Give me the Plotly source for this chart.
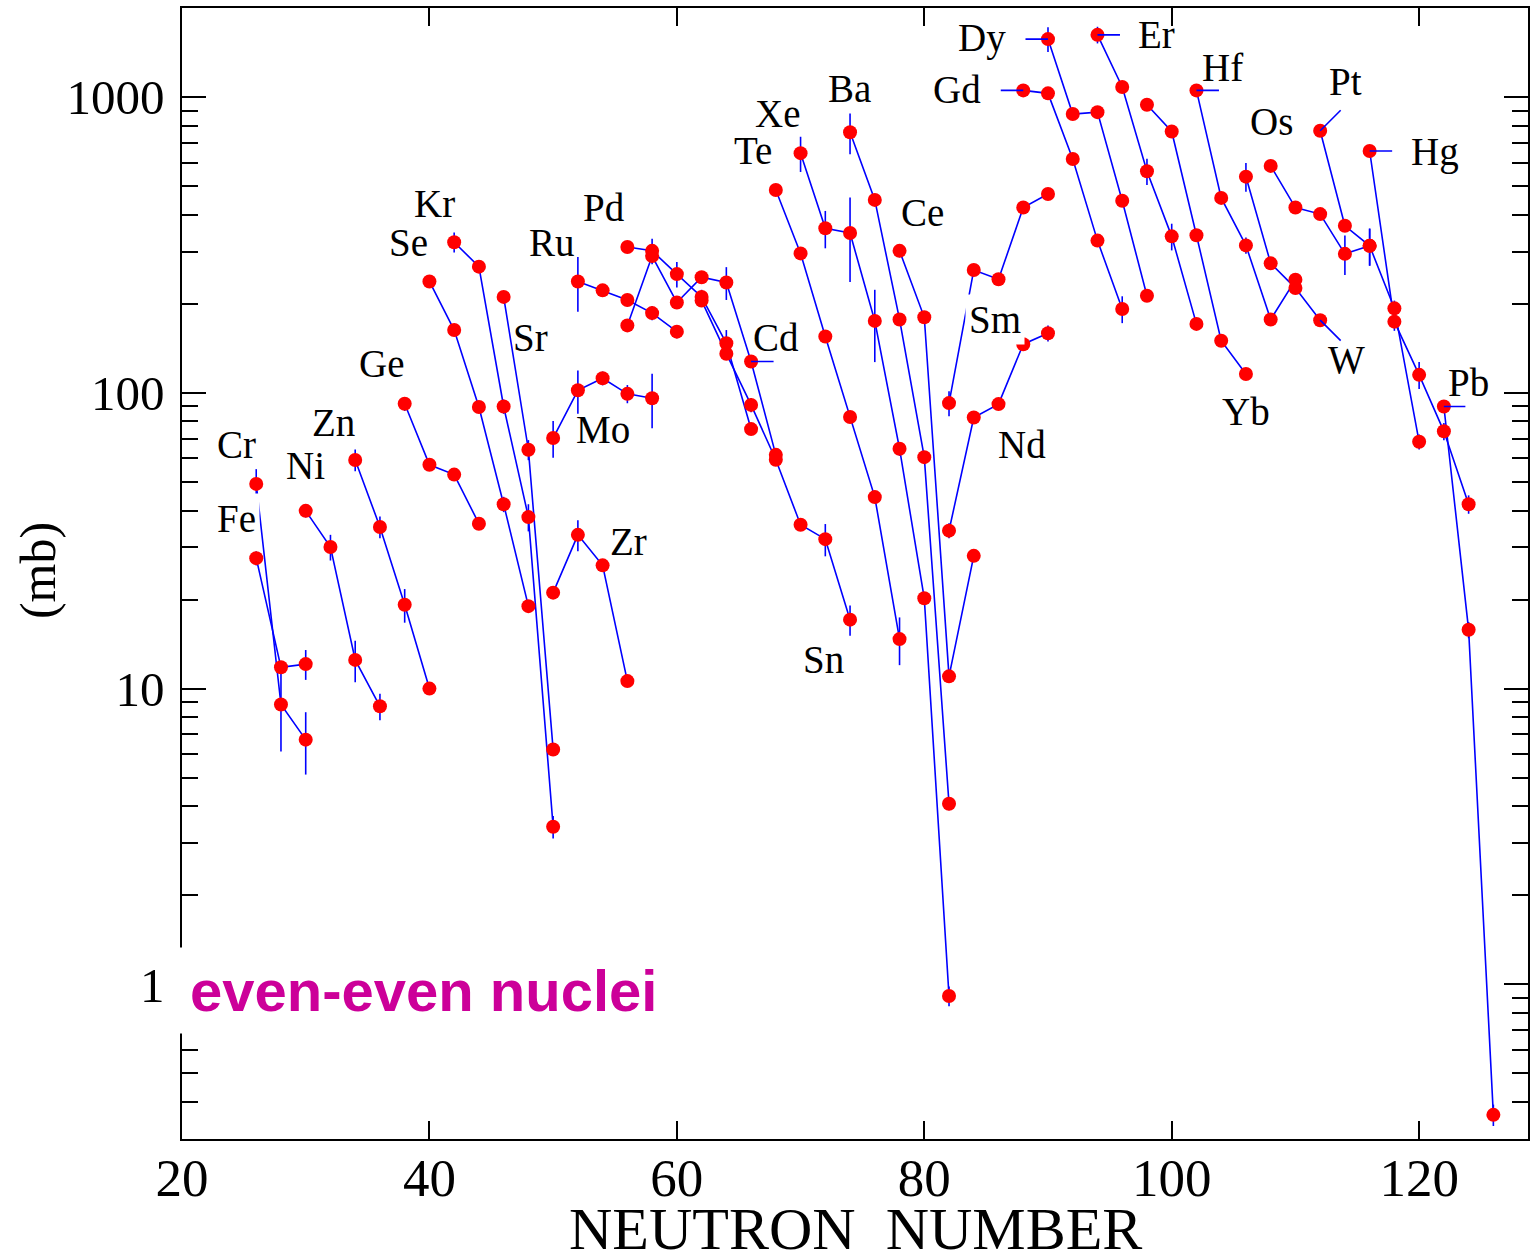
import math
import plotly.graph_objects as go

# Capture cross sections (mb) of even-even isotopes, grouped by element,
# plotted against neutron number N.
cr_n = [26, 28, 30]
cr_mb = [49.2, 8.83, 6.72]
cr_err = [6.0, 2.7, 1.6]

fe_n = [26, 28, 30]
fe_mb = [27.6, 11.8, 12.1]
fe_err = [1.5, 0.6, 1.4]

ni_n = [30, 32, 34, 36]
ni_mb = [39.9, 30.1, 12.5, 8.71]
ni_err = [2.0, 3.0, 2.0, 0.9]

zn_n = [34, 36, 38, 40]
zn_mb = [59.3, 35.2, 19.2, 10.0]
zn_err = [5.0, 3.0, 2.5, 0.0]

ge_n = [38, 40, 42, 44]
ge_mb = [91.8, 57.1, 52.9, 36.1]
ge_err = [5.0, 0.0, 0.0, 0.0]

se_n = [40, 42, 44, 46, 48]
se_mb = [238, 163, 89.5, 42.0, 19.0]
se_err = [0, 0, 0, 2.5, 0]

kr_n = [42, 44, 46, 48, 50]
kr_mb = [323, 267, 89.9, 38.0, 3.41]
kr_err = [25, 0, 5, 4, 0.3]

sr_n = [46, 48, 50]
sr_mb = [211, 64.2, 6.22]
sr_err = [0, 5, 0.2]

zr_n = [50, 52, 54, 56]
zr_mb = [21.1, 33.1, 26.1, 10.6]
zr_err = [1.0, 4.0, 1.0, 0.0]

mo_n = [50, 52, 54, 56, 58]
mo_mb = [70.3, 102, 112, 99.2, 95.9]
mo_err = [10, 17, 6, 7, 20]

ru_n = [52, 54, 56, 58, 60]
ru_mb = [238, 222, 206, 186, 161]
ru_err = [50, 5, 10, 10, 8]

pd_n = [56, 58, 60, 62, 64, 66]
pd_mb = [311, 302, 252, 211, 147, 75.4]
pd_err = [0, 30, 25, 12, 16, 0]

cd_n = [56, 58, 60, 62, 64, 66, 68]
cd_mb = [169, 290, 202, 246, 236, 127.6, 61.7]
cd_err = [0, 0, 0, 0, 30, 0, 0]

sn_n = [62, 64, 66, 68, 70, 72, 74]
sn_mb = [205, 135.6, 91.0, 59.4, 35.8, 32.0, 17.1]
sn_err = [10, 5, 5, 0, 0, 4, 2]

te_n = [68, 70, 72, 74, 76, 78]
te_mb = [485, 296, 155, 82.8, 44.4, 14.7]
te_err = [0, 0, 0, 0, 2, 2.7]

xe_n = [70, 72, 74, 76, 78, 80, 82]
xe_mb = [646, 360, 347, 175, 64.7, 20.2, 0.913]
xe_err = [88, 52, 110, 48, 3.5, 1.0, 0.07]

ba_n = [74, 76, 78, 80, 82]
ba_mb = [760, 449, 177, 60.6, 4.08]
ba_err = [120, 0, 0, 3, 0.2]

ce_n = [78, 80, 82, 84]
ce_mb = [302, 180, 11.0, 28.1]
ce_err = [15, 0, 0.5, 0]

nd_n = [82, 84, 86, 88, 90]
nd_mb = [34.2, 82.5, 91.6, 146, 159]
nd_err = [2, 0, 0, 0, 10]

sm_n = [82, 84, 86, 88, 90]
sm_mb = [92.3, 260, 242, 423, 470]
sm_err = [9, 0, 0, 0, 0]

gd_n = [88, 90, 92, 94, 96]
gd_mb = [1053, 1029, 617, 327, 192]
gd_err = [0, 0, 0, 0, 20]

dy_n = [90, 92, 94, 96, 98]
dy_mb = [1570, 876, 889, 446, 213]
dy_err = [150, 0, 0, 0, 0]

er_n = [94, 96, 98, 100, 102]
er_mb = [1623, 1081, 561, 338, 171]
er_err = [105, 0, 57, 35, 0]

yb_n = [98, 100, 102, 104, 106]
yb_mb = [942, 765, 341, 150, 115.7]
yb_err = [0, 0, 0, 0, 0]

hf_n = [102, 104, 106, 108, 110]
hf_mb = [1053, 456, 315, 177, 241]
hf_err = [0, 0, 20, 0, 0]

w_n = [106, 108, 110, 112]
w_mb = [538, 274, 226, 176]
w_err = [60, 0, 0, 0]

os_n = [108, 110, 112, 114, 116]
os_mb = [585, 423, 402, 295, 314]
os_err = [0, 0, 0, 45, 45]

pt_n = [112, 114, 116, 118, 120]
pt_mb = [769, 367, 314, 193, 68.3]
pt_err = [0, 0, 45, 12, 4]

hg_n = [116, 118, 120, 122, 124]
hg_mb = [657, 174, 115, 74.1, 42.0]
hg_err = [0, 12, 12, 5, 3]

pb_n = [122, 124, 126]
pb_mb = [89.9, 15.8, 0.362]
pb_err = [0, 1.0, 0.03]

series = [
    ("Cr", cr_n, cr_mb, cr_err), ("Fe", fe_n, fe_mb, fe_err),
    ("Ni", ni_n, ni_mb, ni_err), ("Zn", zn_n, zn_mb, zn_err),
    ("Ge", ge_n, ge_mb, ge_err), ("Se", se_n, se_mb, se_err),
    ("Kr", kr_n, kr_mb, kr_err), ("Sr", sr_n, sr_mb, sr_err),
    ("Zr", zr_n, zr_mb, zr_err), ("Mo", mo_n, mo_mb, mo_err),
    ("Ru", ru_n, ru_mb, ru_err), ("Pd", pd_n, pd_mb, pd_err),
    ("Cd", cd_n, cd_mb, cd_err), ("Sn", sn_n, sn_mb, sn_err),
    ("Te", te_n, te_mb, te_err), ("Xe", xe_n, xe_mb, xe_err),
    ("Ba", ba_n, ba_mb, ba_err), ("Ce", ce_n, ce_mb, ce_err),
    ("Nd", nd_n, nd_mb, nd_err), ("Sm", sm_n, sm_mb, sm_err),
    ("Gd", gd_n, gd_mb, gd_err), ("Dy", dy_n, dy_mb, dy_err),
    ("Er", er_n, er_mb, er_err), ("Yb", yb_n, yb_mb, yb_err),
    ("Hf", hf_n, hf_mb, hf_err), ("W", w_n, w_mb, w_err),
    ("Os", os_n, os_mb, os_err), ("Pt", pt_n, pt_mb, pt_err),
    ("Hg", hg_n, hg_mb, hg_err), ("Pb", pb_n, pb_mb, pb_err),
]

# Element label placement (neutron number, log10 of mb)
label_pos = {
    "Cr": (24.37, 1.824), "Fe": (24.37, 1.574), "Ni": (30.02, 1.753),
    "Zn": (32.21, 1.899), "Ge": (36.09, 2.098), "Se": (38.27, 2.507),
    "Kr": (40.37, 2.639), "Sr": (48.13, 2.186), "Ru": (49.91, 2.507),
    "Pd": (54.11, 2.625), "Mo": (54.03, 1.875), "Zr": (56.06, 1.497),
    "Cd": (68.02, 2.186), "Te": (66.16, 2.818), "Xe": (68.10, 2.943),
    "Ba": (73.92, 3.030), "Ce": (79.82, 2.611), "Sn": (71.82, 1.098),
    "Sm": (85.72, 2.247), "Nd": (87.91, 1.824), "Dy": (84.67, 3.199),
    "Gd": (82.65, 3.024), "Er": (98.74, 3.213), "Hf": (104.07, 3.101),
    "Os": (108.04, 2.916), "Pt": (114.02, 3.051), "Hg": (121.29, 2.814),
    "W": (114.10, 2.111), "Yb": (106.01, 1.936), "Pb": (123.96, 2.034),
}
# labels drawn on an opaque box (value = padding in px)
boxed_labels = {"Fe": 3, "Sm": 3}

# leader ticks: (element, isotope index, dx px, dy px)
leaders = [
    ("Dy", 0, -24, 0), ("Er", 0, 24, 0), ("Gd", 0, -24, 0), ("Hf", 0, 24, 0),
    ("Cd", 5, 24, 0), ("Pt", 0, 22, -22), ("Hg", 0, 24, 0), ("W", 3, 22, 22),
    ("Pb", 0, 23, 0),
]

SERIF = "Liberation Serif"
BLUE = "#0000ff"

fig = go.Figure()
for name, n, mb, err in series:
    fig.add_trace(go.Scatter(
        x=n, y=mb, mode="lines", name=name,
        line=dict(color=BLUE, width=1.6),
        error_y=dict(type="data", array=err, visible=True, width=0,
                     thickness=1.6, color=BLUE),
        showlegend=False, hoverinfo="skip"))
for name, n, mb, err in series:
    fig.add_trace(go.Scatter(
        x=n, y=mb, mode="markers", name=name,
        marker=dict(color="#ff0000", size=14, line=dict(width=0)),
        showlegend=False))

data = {name: (n, mb) for name, n, mb, err in series}
annotations = []
for name, idx, dx, dy in leaders:
    n, mb = data[name]
    annotations.append(dict(
        x=n[idx], y=math.log10(mb[idx]), xref="x", yref="y",
        text=" ", font=dict(size=1), showarrow=True, arrowhead=0,
        arrowwidth=1.6, arrowcolor=BLUE, standoff=0, ax=dx, ay=dy))

for name, (lx, ly) in label_pos.items():
    ann = dict(x=lx, y=ly, xref="x", yref="y", text=name, showarrow=False,
               font=dict(family=SERIF, size=39, color="black"),
               xanchor="center", yanchor="middle")
    if name in boxed_labels:
        ann["bgcolor"] = "white"
        ann["borderpad"] = boxed_labels[name]
    annotations.append(ann)

annotations.append(dict(
    x=39.56, y=-0.02, xref="x", yref="y", text="even-even nuclei",
    showarrow=False, xanchor="center", yanchor="middle",
    font=dict(family="Liberation Sans", size=58, color="#cc0099", weight="bold"),
    bgcolor="white", borderpad=10))

# axis titles
annotations.append(dict(
    x=0.5, y=-0.0796, xref="paper", yref="paper", text="NEUTRON\u00a0 NUMBER",
    showarrow=False, xanchor="center", yanchor="middle",
    font=dict(family=SERIF, size=60, color="black")))
annotations.append(dict(
    x=-0.107, y=0.503, xref="paper", yref="paper", text="(mb)",
    showarrow=False, xanchor="center", yanchor="middle", textangle=-90,
    font=dict(family=SERIF, size=50, color="black")))

minor_y = [m * 10 ** d for d in range(-1, 4) for m in range(2, 10)
           if 0.3 <= m * 10 ** d <= 2000]

fig.update_layout(
    width=1531, height=1255,
    margin=dict(l=182, r=3, t=8, b=116),
    paper_bgcolor="white", plot_bgcolor="white",
    font=dict(family=SERIF, color="black"),
    annotations=annotations,
    xaxis=dict(
        range=[20, 128.8], tickvals=[20, 40, 60, 80, 100, 120],
        ticks="inside", ticklen=18, tickwidth=1.5, tickcolor="black",
        showline=True, linecolor="black", linewidth=1.5, mirror="ticks",
        showgrid=False, zeroline=False, automargin=False,
        tickfont=dict(family=SERIF, size=53),
        ticklabelstandoff=-8,
    ),
    yaxis=dict(
        type="log", range=[math.log10(0.3), math.log10(2000)],
        tickvals=[1, 10, 100, 1000], ticktext=["1", "10", "100", "1000"],
        ticks="inside", ticklen=24, tickwidth=1.5, tickcolor="black",
        minor=dict(tickvals=minor_y, ticks="inside", ticklen=16,
                   tickwidth=1.5, tickcolor="black", showgrid=False),
        showline=True, linecolor="black", linewidth=1.5, mirror="ticks",
        showgrid=False, zeroline=False, automargin=False,
        tickfont=dict(family=SERIF, size=49),
        ticklabelstandoff=6,
    ),
)

fig.write_html("out.html")
